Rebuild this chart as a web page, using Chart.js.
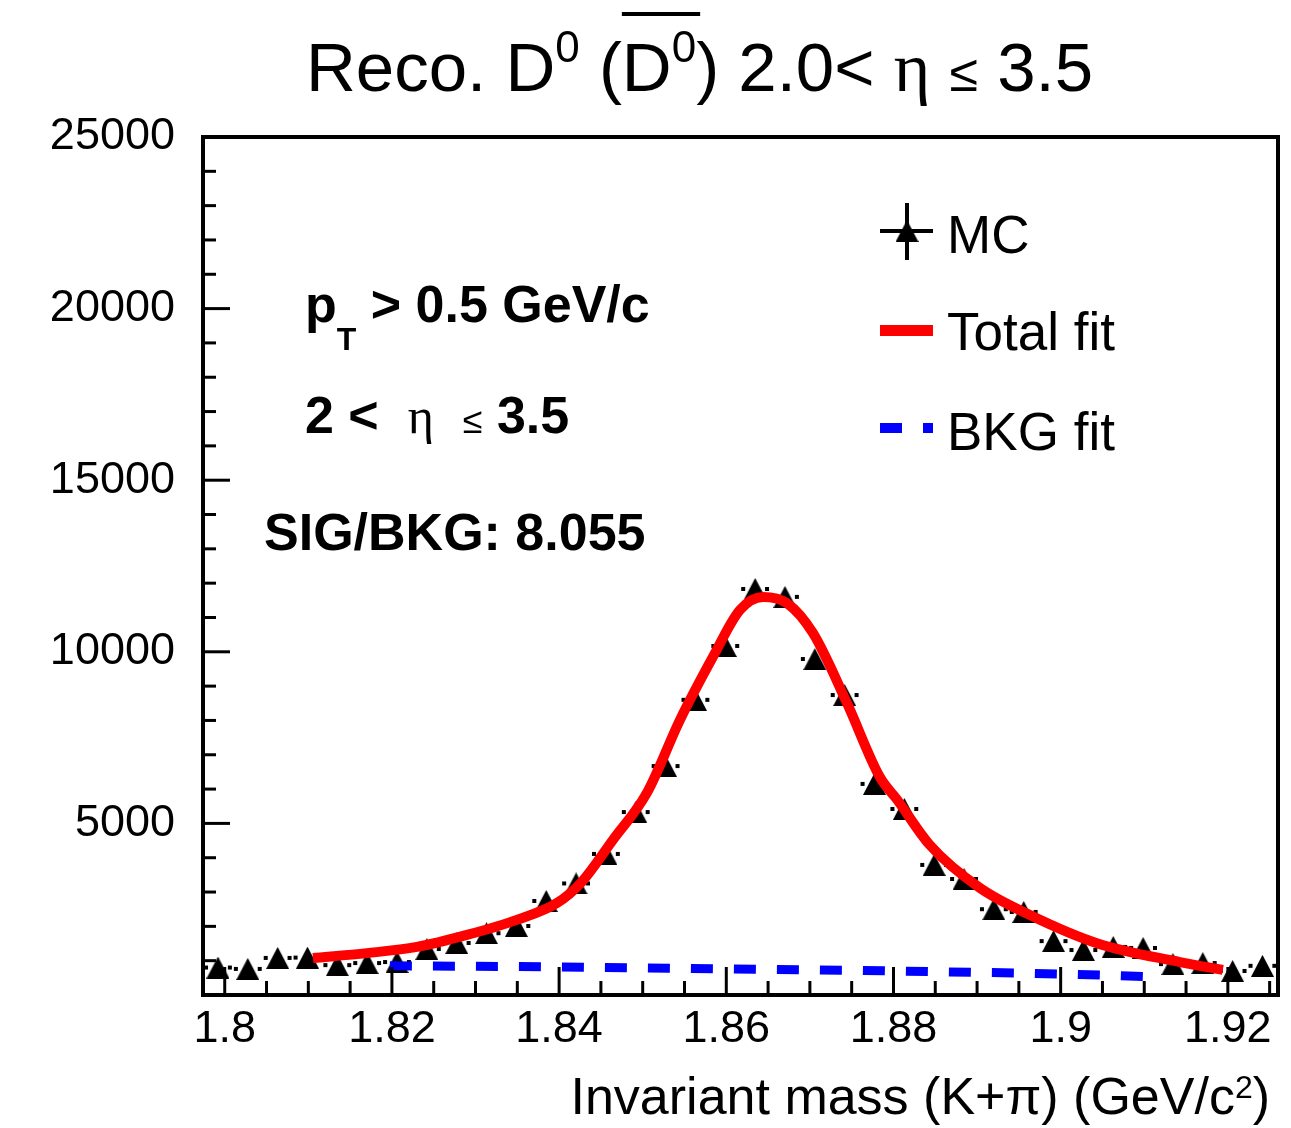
<!DOCTYPE html>
<html>
<head>
<meta charset="utf-8">
<script src="https://cdn.jsdelivr.net/npm/chart.js@4.4.0/dist/chart.umd.min.js"></script>
<style>
  html, body { margin: 0; padding: 0; background: #fff; }
  #wrap { position: relative; width: 1291px; height: 1128px; }
</style>
</head>
<body>
<div id="wrap"><canvas id="massChart" width="1291" height="1128"></canvas></div>
<script>
// histogram bin centres (GeV/c^2) and MC counts
const massBins = [1.79919, 1.80276, 1.80633, 1.80990, 1.81347, 1.81704, 1.82061, 1.82418, 1.82775,
  1.83132, 1.83489, 1.83846, 1.84203, 1.84560, 1.84917, 1.85274, 1.85631, 1.85988, 1.86345,
  1.86702, 1.87059, 1.87416, 1.87773, 1.88130, 1.88487, 1.88844, 1.89201, 1.89558, 1.89915,
  1.90272, 1.90629, 1.90986, 1.91343, 1.91700, 1.92057, 1.92414];
const mcCounts = [800, 760, 1080, 1090, 870, 930, 960, 1340, 1515, 1800, 2010, 2740, 3250, 4110,
  5330, 6670, 8600, 10170, 11830, 11600, 9790, 8740, 6150, 5420, 3790, 3380, 2500, 2420, 1570,
  1310, 1400, 1370, 900, 930, 700, 850];

// total fit curve
const fitMass = [1.81055, 1.81701, 1.82299, 1.82897, 1.83495, 1.83974, 1.84261, 1.84644, 1.85050,
  1.85445, 1.85840, 1.86163, 1.86438, 1.86725, 1.87036, 1.87443, 1.87837, 1.88041, 1.88435,
  1.89033, 1.89632, 1.90433, 1.91426, 1.91940];
const fitTotal = [1080, 1220, 1400, 1750, 2190, 2680, 3270, 4520, 5890, 8010, 9850, 11220, 11600,
  11420, 10550, 8510, 6350, 5700, 4370, 3120, 2330, 1510, 960, 730];

// background fit
const bkgMass = [1.81976, 1.835, 1.845, 1.86, 1.875, 1.885, 1.895, 1.905, 1.91007];
const bkgFit = [850, 830, 800, 760, 720, 680, 640, 580, 540];

const xTickValues = [1.8, 1.82, 1.84, 1.86, 1.88, 1.9, 1.92];
const xTickLabels = ['1.8', '1.82', '1.84', '1.86', '1.88', '1.9', '1.92'];
const yTickValues = [5000, 10000, 15000, 20000, 25000];
const yTickLabels = ['5000', '10000', '15000', '20000', '25000'];

const SANS = "'Liberation Sans', Arial, Helvetica, sans-serif";
const SERIF = "'Liberation Serif', 'DejaVu Serif', serif";

// triangle marker with its box centred on the point (ROOT style)
function makeTriangle(w, h) {
  const c = document.createElement('canvas');
  c.width = w; c.height = h;
  const g = c.getContext('2d');
  g.fillStyle = '#000';
  g.beginPath();
  g.moveTo(0, h); g.lineTo(w, h); g.lineTo(w / 2, 0);
  g.closePath(); g.fill();
  return c;
}
const tri = makeTriangle(23, 22);

function drawRuns(ctx, x, y, runs) {
  let cx = x, overStart = 0;
  runs.forEach(r => {
    ctx.font = r.font;
    if (r.overStart) overStart = cx;
    ctx.fillText(r.text, cx, y + (r.dy || 0));
    cx += ctx.measureText(r.text).width;
    if (r.overEnd) ctx.fillRect(overStart, r.overY, cx - overStart + 4, 4);
  });
  return cx;
}
function runsWidth(ctx, runs) {
  let w = 0;
  runs.forEach(r => { ctx.font = r.font; w += ctx.measureText(r.text).width; });
  return w;
}
function seg(ctx, x1, y1, x2, y2) {
  ctx.beginPath(); ctx.moveTo(x1, y1); ctx.lineTo(x2, y2); ctx.stroke();
}

const decor = {
  id: 'decor',
  beforeDatasetsDraw(chart) {
    // dotted x error bars: one dot at each bin edge
    const { ctx, scales: { x, y } } = chart;
    ctx.save();
    ctx.fillStyle = '#000';
    massBins.forEach((m, i) => {
      const half = 0.001785;
      const py = y.getPixelForValue(mcCounts[i]);
      const l = x.getPixelForValue(m - half), r = x.getPixelForValue(m + half);
      ctx.fillRect(l + 1, py - 2, 4, 4);
      ctx.fillRect(r - 5, py - 2, 4, 4);
    });
    ctx.restore();
  },
  afterDraw(chart) {
    const { ctx, chartArea: a, scales: { x, y } } = chart;
    ctx.save();
    ctx.strokeStyle = '#000';
    ctx.fillStyle = '#000';
    ctx.lineWidth = 3;
    // ticks inside the frame
    for (let v = 0; v <= 25000; v += 1000) {
      const py = y.getPixelForValue(v);
      seg(ctx, a.left, py, a.left + (v % 5000 === 0 ? 27 : 13), py);
    }
    for (let k = 0; k * 0.005 + 1.8 < x.max; k++) {
      const px = x.getPixelForValue(1.8 + k * 0.005);
      seg(ctx, px, a.bottom, px, a.bottom - (k % 4 === 0 ? 28 : 14));
    }
    ctx.lineWidth = 4;
    ctx.strokeRect(a.left, a.top, a.right - a.left, a.bottom - a.top);

    ctx.textBaseline = 'alphabetic';
    ctx.textAlign = 'left';

    // title
    const T = '69px ' + SANS, S = '44px ' + SANS;
    drawRuns(ctx, 306, 91, [
      { text: 'Reco. D', font: T },
      { text: '0', font: S, dy: -29 },
      { text: ' (', font: T },
      { text: 'D', font: T, overStart: true },
      { text: '0', font: S, dy: -29, overEnd: true, overY: 12 },
      { text: ')', font: T },
      { text: ' 2.0< ', font: T },
      { text: 'η', font: '70px ' + SERIF },
      { text: ' ', font: T },
      { text: '≤', font: '52px ' + SANS },
      { text: ' 3.5', font: T }
    ]);

    // cuts text
    const B = 'bold 52px ' + SANS;
    drawRuns(ctx, 305, 322, [
      { text: 'p', font: B },
      { text: 'T', font: 'bold 32px ' + SANS, dy: 28 },
      { text: ' > 0.5 GeV/c', font: B }
    ]);
    drawRuns(ctx, 305, 433, [
      { text: '2 <  ', font: B },
      { text: 'η', font: '50px ' + SERIF },
      { text: '  ', font: B },
      { text: '≤', font: '36px ' + SANS },
      { text: ' 3.5', font: B }
    ]);
    drawRuns(ctx, 264, 550, [{ text: 'SIG/BKG: 8.055', font: 'bold 52px ' + SANS }]);

    // x axis title, right aligned
    const A = '52px ' + SANS;
    const xt = [
      { text: 'Invariant mass (K+π) (GeV/c', font: A },
      { text: '2', font: '32px ' + SANS, dy: -16 },
      { text: ')', font: A }
    ];
    drawRuns(ctx, 1270 - runsWidth(ctx, xt), 1114, xt);

    // legend
    ctx.drawImage(tri, 907 - 11.5, 231 - 11);
    ctx.lineWidth = 4;
    seg(ctx, 880, 231, 933, 231);
    seg(ctx, 907, 203, 907, 260);
    ctx.fillStyle = '#ff0000';
    ctx.fillRect(880, 325, 53, 11);
    ctx.fillStyle = '#0000ff';
    ctx.fillRect(880, 423, 22, 10);
    ctx.fillRect(923, 423, 10, 10);
    ctx.fillStyle = '#000';
    ctx.font = '53px ' + SANS;
    ctx.fillText('MC', 947, 253);
    ctx.fillText('Total fit', 947, 350);
    ctx.fillText('BKG fit', 947, 450);
    ctx.restore();
  }
};

const tickFont = { family: SANS, size: 45 };

new Chart(document.getElementById('massChart'), {
  type: 'scatter',
  data: {
    datasets: [
      {
        label: 'Total fit',
        data: fitMass.map((m, i) => ({ x: m, y: fitTotal[i] })),
        showLine: true,
        borderColor: '#ff0000',
        borderWidth: 10,
        pointRadius: 0,
        cubicInterpolationMode: 'monotone',
        order: 1
      },
      {
        label: 'BKG fit',
        data: bkgMass.map((m, i) => ({ x: m, y: bkgFit[i] })),
        showLine: true,
        borderColor: '#0000ff',
        borderWidth: 9,
        borderDash: [22, 21],
        pointRadius: 0,
        order: 2
      },
      {
        label: 'MC',
        data: massBins.map((m, i) => ({ x: m, y: mcCounts[i] })),
        pointStyle: tri,
        pointRadius: 11,
        order: 3
      }
    ]
  },
  options: {
    responsive: false,
    animation: false,
    devicePixelRatio: 1,
    layout: { padding: { left: 0, right: 13, top: 137, bottom: 0 } },
    plugins: { legend: { display: false }, tooltip: { enabled: false }, title: { display: false } },
    scales: {
      x: {
        type: 'linear',
        min: 1.7974,
        max: 1.926,
        grid: { display: false, drawTicks: false },
        border: { display: false },
        afterBuildTicks: axis => { axis.ticks = xTickValues.map(v => ({ value: v })); },
        afterFit: axis => { axis.height = 133; },
        ticks: {
          font: tickFont,
          color: '#000',
          padding: 8,
          maxRotation: 0,
          autoSkip: false,
          callback: v => xTickLabels[xTickValues.indexOf(v)]
        }
      },
      y: {
        min: 0,
        max: 25000,
        grid: { display: false, drawTicks: false },
        border: { display: false },
        afterBuildTicks: axis => { axis.ticks = yTickValues.map(v => ({ value: v })); },
        afterFit: axis => { axis.width = 203; },
        ticks: {
          font: tickFont,
          color: '#000',
          padding: 28,
          autoSkip: false,
          callback: v => yTickLabels[yTickValues.indexOf(v)]
        }
      }
    }
  },
  plugins: [decor]
});
</script>
</body>
</html>
